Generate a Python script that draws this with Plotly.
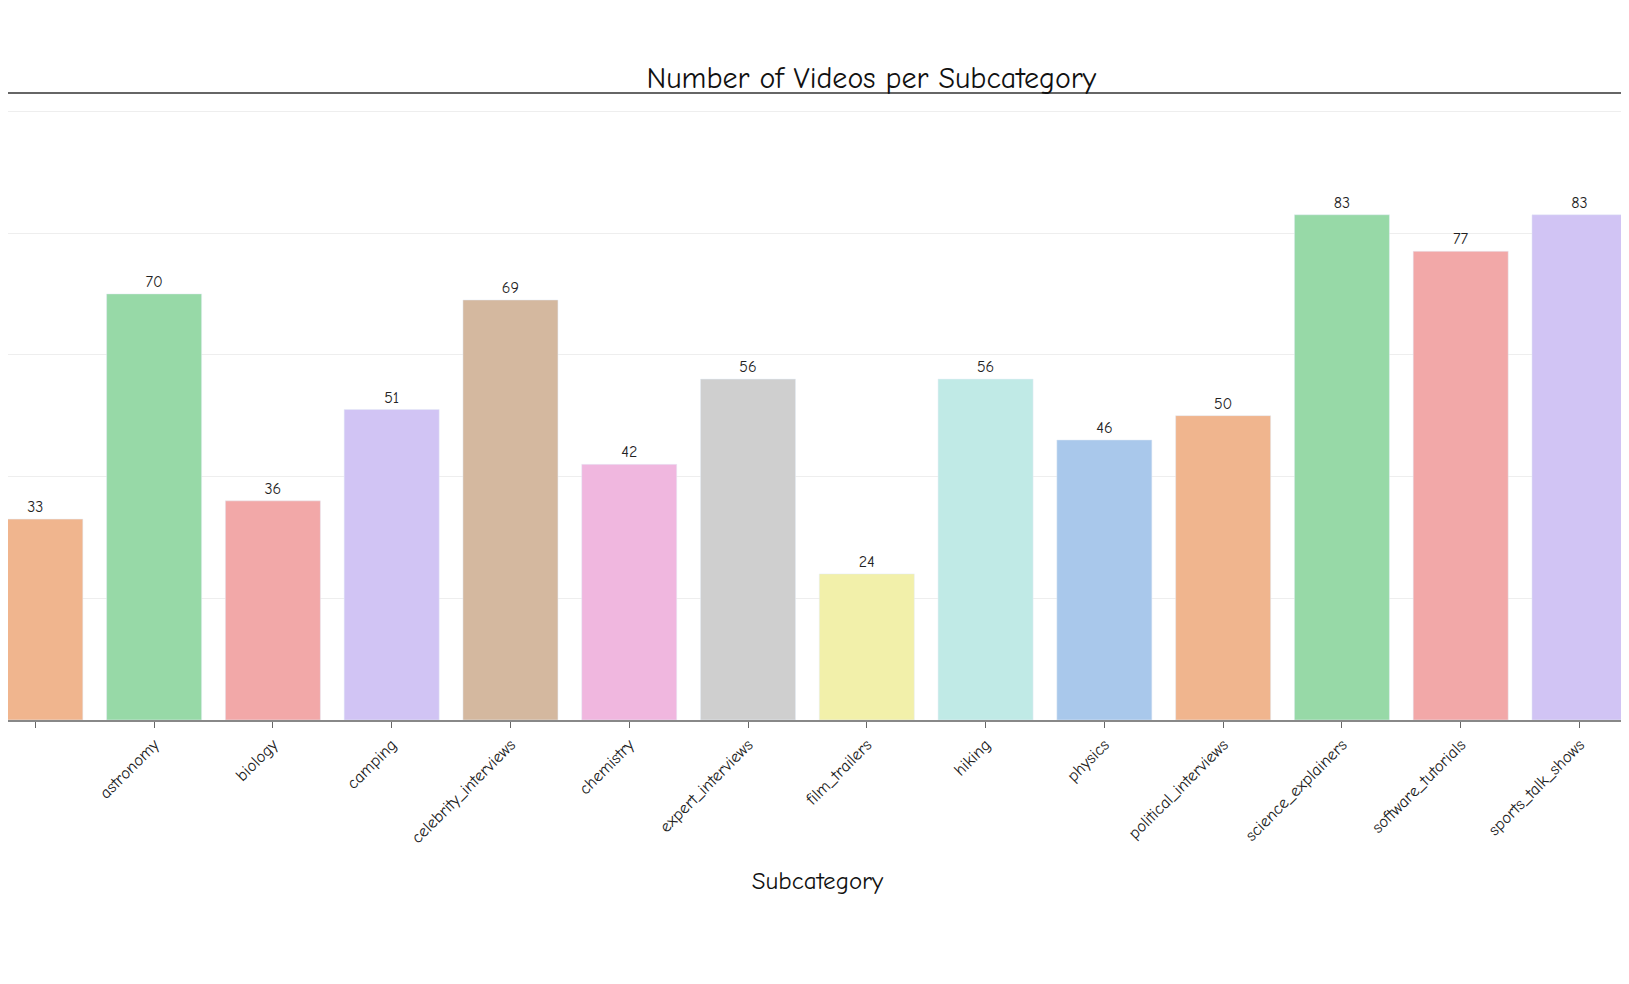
import plotly.graph_objects as go

categories = ["art_concepts", "astronomy", "biology", "camping", "celebrity_interviews",
              "chemistry", "expert_interviews", "film_trailers", "hiking", "physics",
              "political_interviews", "science_explainers", "software_tutorials",
              "sports_talk_shows", "travel_vlogs"]
counts = [33, 70, 36, 51, 69, 42, 56, 24, 56, 46, 50, 83, 77, 83, 60]
colors = ["#F0B58E", "#97D9A7", "#F2A8A8", "#D1C4F4", "#D4B89F", "#F0B7DF", "#CFCFCF",
          "#F2F0AA", "#C0EAE6", "#A9C8EB", "#F0B58E", "#97D9A7", "#F2A8A8", "#D1C4F4", "#D4B89F"]

font = "Comic Neue, Comic Sans MS, Lato, sans-serif"
fig = go.Figure(go.Bar(
    x=list(range(len(categories))), y=counts, marker_color=colors, width=0.8,
    text=[str(c) for c in counts], textposition="outside",
    textfont=dict(size=16, color="#222"), cliponaxis=False,
))
fig.update_layout(
    width=1629, height=984, plot_bgcolor="white", paper_bgcolor="white",
    margin=dict(l=0, r=10, t=85, b=272),
    title=dict(text="Number of Videos per Subcategory", x=0.53, xanchor="center",
               y=0.94, font=dict(family=font, size=30, color="#111")),
    showlegend=False, font=dict(family=font),
)
fig.update_xaxes(
    tickmode="array", tickvals=list(range(len(categories))), ticktext=categories,
    range=[-0.23, 13.4], tickangle=-45, ticks="outside", ticklen=6, tickcolor="#666",
    tickfont=dict(size=17, color="#222"), showline=True, linecolor="#888", linewidth=2,
    title=dict(text="Subcategory", font=dict(size=25, color="#111"), standoff=25),
    showgrid=False,
)
fig.update_yaxes(
    range=[0, 103], dtick=20, showgrid=True, gridcolor="#EEEEEE", showticklabels=False,
    zeroline=False,
)
fig.add_shape(type="line", xref="paper", yref="paper", x0=0, x1=1, y0=1, y1=1,
              line=dict(color="#333", width=1.5))
fig.write_html("out.html")
